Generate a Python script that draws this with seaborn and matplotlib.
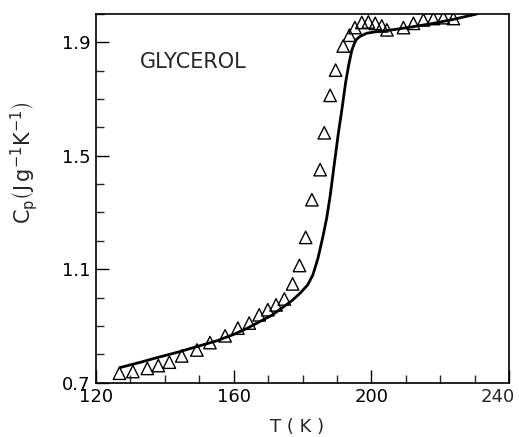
import numpy as np
import pandas as pd
import matplotlib
matplotlib.use('Agg')
import matplotlib.pyplot as plt
from matplotlib.ticker import MultipleLocator
import seaborn as sns

# solid curve (calculated Cp)
curve_T = [127, 133, 138, 144, 149, 155, 160, 164, 168, 171, 174, 177, 179.5,
           181.5, 183, 184.5, 186, 187, 188, 189.2, 190.4, 191.5, 192.5, 193.4,
           194.3, 195.0, 195.7, 196.7, 198.6, 201, 203.5, 208.3, 213, 218,
           223.8, 227, 230.6]
curve_cp = [0.753, 0.772, 0.789, 0.808, 0.826, 0.847, 0.870, 0.892, 0.918,
            0.937, 0.963, 0.990, 1.018, 1.045, 1.08, 1.14, 1.22, 1.28, 1.357,
            1.47, 1.58, 1.67, 1.758, 1.82, 1.872, 1.895, 1.911, 1.921, 1.932,
            1.937, 1.94, 1.948, 1.957, 1.967, 1.981, 1.99, 2.0]

# measured points (triangles)
meas_T = [126.8, 130.7, 134.9, 138.1, 141.3, 144.9, 149.3, 153.1, 157.5, 161.2,
          164.5, 167.4, 169.9, 172.3, 174.7, 177.1, 179.1, 180.9, 182.7, 185.1,
          186.3, 188.0, 189.6, 191.8, 193.6, 195.2, 197.2, 199.1, 201.1, 203.0,
          204.5, 209.3, 212.2, 215.1, 218.0, 220.9, 223.8]
meas_cp = [0.733, 0.739, 0.750, 0.760, 0.772, 0.794, 0.815, 0.841, 0.865, 0.892,
           0.910, 0.939, 0.957, 0.974, 0.995, 1.048, 1.113, 1.212, 1.345, 1.451,
           1.581, 1.713, 1.802, 1.887, 1.925, 1.952, 1.970, 1.972, 1.967, 1.958,
           1.944, 1.952, 1.967, 1.979, 1.984, 1.987, 1.984]

x_ticks = [120, 160, 200, 240]
x_labels = ['120', '160', '200', '240']
y_ticks = [0.7, 1.1, 1.5, 1.9]

curve = pd.DataFrame({'T': curve_T, 'cp': curve_cp})
meas = pd.DataFrame({'T': meas_T, 'cp': meas_cp})

sns.set_style('ticks')
plt.rcParams['font.family'] = ['DejaVu Sans']
plt.rcParams['mathtext.default'] = 'regular'

fig = plt.figure(figsize=(5.19, 4.37), dpi=100)
ax = fig.add_axes([0.185, 0.1245, 0.796, 0.8435])

sns.lineplot(data=curve, x='T', y='cp', color='black', linewidth=2.0, ax=ax, sort=False)
sns.scatterplot(data=meas, x='T', y='cp', marker='^', s=80, facecolor='none',
                edgecolor='black', linewidth=1.0, ax=ax, zorder=3)

ax.set_xlim(120, 240)
ax.set_ylim(0.7, 2.0)
# last x label is drawn by hand, nudged left so it stays inside the figure
ax.set_xticks(x_ticks, x_labels[:-1] + [''])
ax.xaxis.set_minor_locator(MultipleLocator(10))
ax.set_yticks(y_ticks)
ax.yaxis.set_minor_locator(MultipleLocator(0.1))
ax.tick_params(which='major', direction='in', length=9.5, width=1.0, labelsize=13,
               colors='black', pad=4)
ax.tick_params(which='minor', direction='in', length=6, width=1.0)
for s in ax.spines.values():
    s.set_linewidth(1.2)
    s.set_color('black')

ax.annotate(x_labels[-1], xy=(x_ticks[-1], 0.7), xycoords='data',
            xytext=(-8, -4), textcoords='offset points',
            ha='center', va='top', fontsize=13, annotation_clip=False)

ax.set_xlabel('T ( K )', fontsize=13)
ax.xaxis.set_label_coords(0.486, -0.095)
ax.set_ylabel(r'$C_p\left(J\,g^{-1}K^{-1}\right)$', fontsize=15)
ax.yaxis.set_label_coords(-0.135, 0.596)
ax.text(0.107, 0.87, 'GLYCEROL', transform=ax.transAxes, fontsize=15,
        ha='left', va='center')

fig.savefig('out.png', dpi=100)
